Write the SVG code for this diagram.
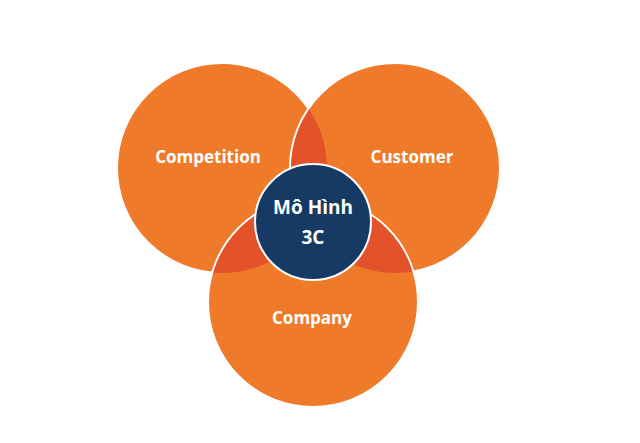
<svg xmlns="http://www.w3.org/2000/svg" width="640" height="443" viewBox="0 0 640 443">
<style>
.c{fill:#ee7a2a;stroke:#fff;stroke-width:2}
.l{fill:#e4522b}
.t{font-family:"Open Sans","Liberation Sans",sans-serif;font-weight:bold;fill:#fff;text-anchor:middle}
</style>
<defs>
<clipPath id="cL"><circle cx="222" cy="168" r="105"/></clipPath>
<clipPath id="cR"><circle cx="395" cy="168" r="105"/></clipPath>
</defs>
<rect width="640" height="443" fill="#fff"/>
<g id="competition"><circle class="c" cx="222" cy="168" r="105"/></g>
<g id="customer"><circle class="c" cx="395" cy="168" r="105"/></g>
<g id="company"><circle class="c" cx="313" cy="302" r="105"/></g>
<g id="overlaps">
<circle class="l" cx="395" cy="168" r="104" clip-path="url(#cL)"/>
<circle class="l" cx="313" cy="302" r="104" clip-path="url(#cL)"/>
<circle class="l" cx="313" cy="302" r="104" clip-path="url(#cR)"/>
</g>
<g id="center"><circle cx="313" cy="222" r="58" fill="#173a64" stroke="#fff" stroke-width="2"/>
<text class="t" x="313" y="214" font-size="19">Mô Hình</text>
<text class="t" x="313" y="244" font-size="19">3C</text></g>
<g id="labels">
<text class="t" x="208" y="163" font-size="17">Competition</text>
<text class="t" x="412" y="163" font-size="17">Customer</text>
<text class="t" x="312" y="324" font-size="17">Company</text>
</g>
<g id="connectors"/>
</svg>
